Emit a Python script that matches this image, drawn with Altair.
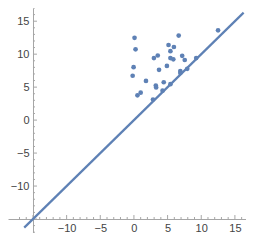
import altair as alt
import pandas as pd

# scatter points
xs = [0.09, 0.24, -0.05, -0.19, 0.52, 1.0, 1.79, 2.97, 3.54, 3.25, 3.3, 2.83, 3.73,
      4.25, 4.43, 4.9, 5.14, 5.42, 5.42, 5.85, 5.94, 5.42, 6.65, 6.89, 6.89, 7.17,
      7.55, 7.92, 9.25, 12.5]
ys = [12.48, 10.74, 8.02, 6.73, 3.76, 4.16, 5.94, 9.41, 9.8, 5.25, 4.95, 3.12, 7.62,
      4.46, 5.74, 8.22, 11.39, 10.45, 9.41, 9.21, 11.09, 5.45, 12.82, 7.43, 7.13, 9.75,
      9.11, 7.77, 9.41, 13.61]

# reference line y = x
line_x = [-16.3, 16.3]
line_y = [-16.3, 16.3]

# tick positions
tick_labels = [-10, -5, 0, 5, 10, 15]
x_major = [-15, -10, -5, 0, 5, 10, 15]
x_minor = [v for v in range(-17, 17) if v % 5 != 0]
y_major = [-15, -10, -5, 0, 5, 10, 15]
y_minor = [v for v in range(-17, 18) if v % 5 != 0]
axis_origin = -15

BLUE = "#5e81b5"
AXIS = "#a6a6a6"
LABEL = "#444444"

xdom = [-18.71, 16.65]
ydom = [-17.12, 17.0]

xscale = alt.Scale(domain=xdom, nice=False, zero=False)
yscale = alt.Scale(domain=ydom, nice=False, zero=False)

xaxis = alt.Axis(values=tick_labels, ticks=False, grid=False, domainColor=AXIS,
                 labelColor=LABEL, labelFontSize=11, labelFont="Liberation Sans",
                 labelPadding=3, offset=-14, title=None, format="d",
                 labelFlush=False, labelOverlap=False)
yaxis = alt.Axis(values=tick_labels, ticks=False, grid=False, domainColor=AXIS,
                 labelColor=LABEL, labelFontSize=11, labelFont="Liberation Sans",
                 labelPadding=4, offset=-25, title=None, format="d",
                 labelFlush=False, labelOverlap=False)

pts = pd.DataFrame({"x": xs, "y": ys})
ln = pd.DataFrame({"x": line_x, "y": line_y})

base_axes = alt.Chart(pd.DataFrame({"x": [0], "y": [0]})).mark_point(opacity=0).encode(
    x=alt.X("x:Q", scale=xscale, axis=xaxis),
    y=alt.Y("y:Q", scale=yscale, axis=yaxis),
)

def xticks(vals, length):
    return alt.Chart(pd.DataFrame({"v": vals})).mark_rule(
        color=AXIS, strokeWidth=1, y2Offset=-length
    ).encode(
        x=alt.X("v:Q", scale=xscale),
        y=alt.YDatum(axis_origin),
        y2=alt.Y2Datum(axis_origin),
    )

def yticks(vals, length):
    return alt.Chart(pd.DataFrame({"v": vals})).mark_rule(
        color=AXIS, strokeWidth=1, x2Offset=length
    ).encode(
        y=alt.Y("v:Q", scale=yscale),
        x=alt.XDatum(axis_origin),
        x2=alt.X2Datum(axis_origin),
    )

line = alt.Chart(ln).mark_line(color=BLUE, strokeWidth=2.2).encode(
    x=alt.X("x:Q", scale=xscale), y=alt.Y("y:Q", scale=yscale)
)
points = alt.Chart(pts).mark_circle(color=BLUE, size=22, opacity=1).encode(
    x=alt.X("x:Q", scale=xscale), y=alt.Y("y:Q", scale=yscale)
)

chart = alt.layer(
    base_axes,
    xticks(x_major, 4), xticks(x_minor, 2),
    yticks(y_major, 4), yticks(y_minor, 2),
    line, points,
).properties(
    width=238, height=225, padding=0, autosize="none"
).configure_view(stroke=None)

chart.save("out.html", embed_options={"renderer": "svg", "actions": False})
